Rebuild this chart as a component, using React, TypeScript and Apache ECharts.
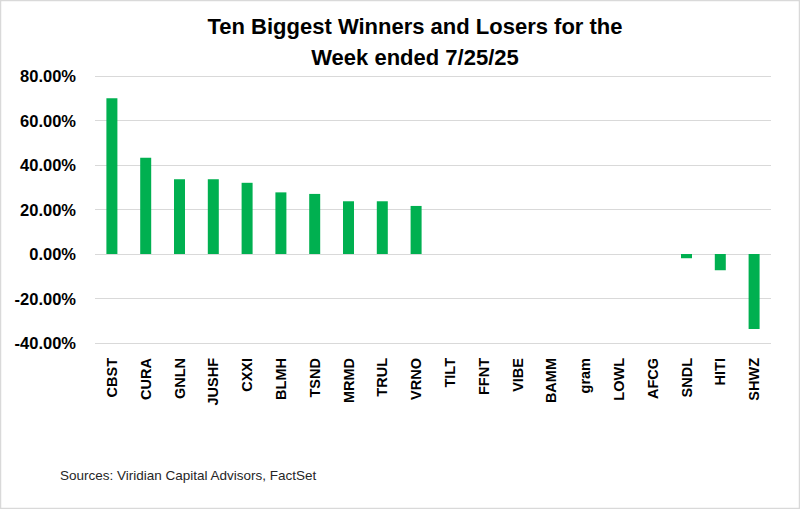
import React, { useEffect, useRef } from "react";
import * as echarts from "echarts";

const categories = ["CBST", "CURA", "GNLN", "JUSHF", "CXXI", "BLMH", "TSND", "MRMD", "TRUL", "VRNO", "TILT", "FFNT", "VIBE", "BAMM", "gram", "LOWL", "AFCG", "SNDL", "HITI", "SHWZ"];
const weeklyChange = [70.0, 43.3, 33.6, 33.6, 32.0, 27.7, 27.0, 23.7, 23.7, 21.6, 0, 0, 0, 0, 0, 0, 0, -1.9, -7.3, -33.7];
const titleText = "Ten Biggest Winners and Losers for the\nWeek ended 7/25/25";
const sourceText = "Sources: Viridian Capital Advisors, FactSet";

export default function App() {
  const ref = useRef<HTMLDivElement>(null);
  useEffect(() => {
    if (!ref.current) return;
    const chart = echarts.init(ref.current, undefined, { renderer: "svg" });
    chart.setOption({
      animation: false,
      backgroundColor: "#ffffff",
      title: {
        text: titleText,
        left: 410,
        top: 6,
        textAlign: "center",
        textStyle: {
          fontFamily: "Liberation Sans, Arial, sans-serif",
          fontSize: 22,
          fontWeight: "bold",
          lineHeight: 31,
          color: "#000000",
        },
      },
      grid: { left: 95, right: 29, top: 76, bottom: 166, containLabel: false },
      xAxis: {
        type: "category",
        data: categories,
        position: "bottom",
        axisLine: { show: false },
        axisTick: { show: false },
        axisLabel: {
          rotate: 90,
          margin: 15,
          interval: 0,
          fontFamily: "Liberation Sans, Arial, sans-serif",
          fontSize: 14.5,
          fontWeight: "bold",
          color: "#000000",
        },
      },
      yAxis: {
        type: "value",
        min: -40,
        max: 80,
        interval: 20,
        axisLine: { show: false },
        axisTick: { show: false },
        splitLine: { lineStyle: { color: "#d9d9d9", width: 1 } },
        axisLabel: {
          margin: 19,
          fontFamily: "Liberation Sans, Arial, sans-serif",
          fontSize: 16.5,
          fontWeight: "bold",
          color: "#000000",
          formatter: (v: number) => v.toFixed(2) + "%",
        },
      },
      series: [
        {
          type: "bar",
          data: weeklyChange,
          barWidth: 11,
          itemStyle: { color: "#00b050" },
        },
      ],
      graphic: [
        {
          type: "rect",
          shape: { x: 0.5, y: 0.5, width: 799, height: 508 },
          style: { fill: "none", stroke: "#d9d9d9", lineWidth: 1.5 },
          silent: true,
        },
        {
          type: "text",
          left: 60,
          top: 468,
          style: {
            text: sourceText,
            fontFamily: "Liberation Sans, Arial, sans-serif",
            fontSize: 13.5,
            fill: "#262626",
          },
        },
      ],
    });
    return () => chart.dispose();
  }, []);
  return <div ref={ref} style={{ position: "absolute", left: 0, top: 0, width: 800, height: 509 }} />;
}
